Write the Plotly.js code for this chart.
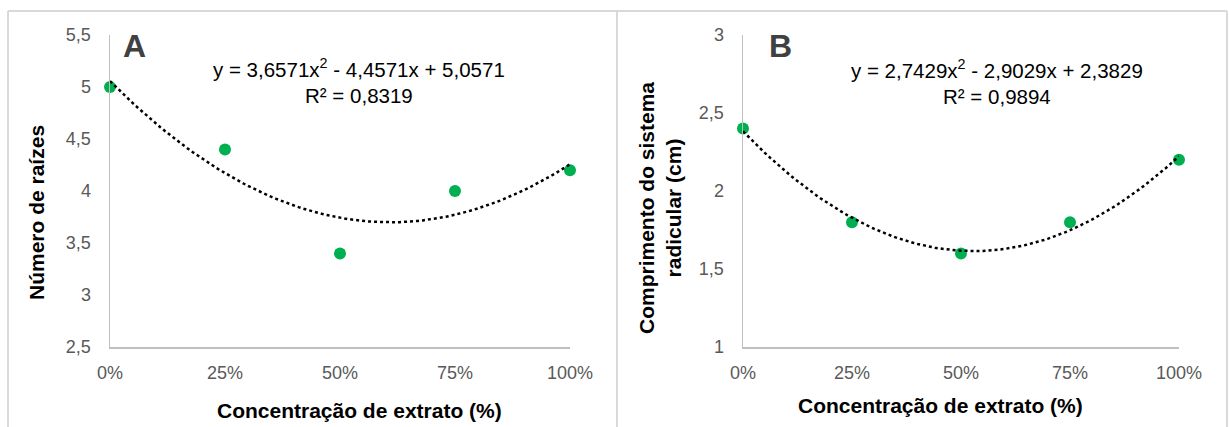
<!DOCTYPE html>
<html>
<head>
<meta charset="utf-8">
<script src="https://cdn.plot.ly/plotly-3.0.1.min.js"></script>
<style>
html,body{margin:0;padding:0;background:#fff;}
#chart{width:1229px;height:427px;}
</style>
</head>
<body>
<div id="chart"></div>
<script>
// ---- data ----
const concentrations = [0, 25, 50, 75, 100];
const xTickLabels = ['0%', '25%', '50%', '75%', '100%'];
const rootCount = [5, 4.4, 3.4, 4.0, 4.2];          // Panel A
const rootLength = [2.4, 1.8, 1.6, 1.8, 2.2];        // Panel B
const yTicksA = [2.5, 3, 3.5, 4, 4.5, 5, 5.5];
const yTickLabelsA = ['2,5', '3', '3,5', '4', '4,5', '5', '5,5'];
const yTicksB = [1, 1.5, 2, 2.5, 3];
const yTickLabelsB = ['1', '1,5', '2', '2,5', '3'];
const eqA = ['y = 3,6571x<sup>2</sup> - 4,4571x + 5,0571', 'R² = 0,8319'];
const eqB = ['y = 2,7429x<sup>2</sup> - 2,9029x + 2,3829', 'R² = 0,9894'];

// quadratic least-squares fit (like the spreadsheet trendline), x as fraction
function quadFit(xs, ys) {
  const S = [0,0,0,0,0], T = [0,0,0];
  xs.forEach((x, i) => {
    for (let k = 0; k < 5; k++) S[k] += Math.pow(x, k);
    for (let k = 0; k < 3; k++) T[k] += ys[i] * Math.pow(x, k);
  });
  const M = [[S[0],S[1],S[2],T[0]],[S[1],S[2],S[3],T[1]],[S[2],S[3],S[4],T[2]]];
  for (let c = 0; c < 3; c++) {
    for (let r = c + 1; r < 3; r++) {
      const f = M[r][c] / M[c][c];
      for (let k = c; k < 4; k++) M[r][k] -= f * M[c][k];
    }
  }
  const b = [0,0,0];
  for (let r = 2; r >= 0; r--) {
    let s = M[r][3];
    for (let k = r + 1; k < 3; k++) s -= M[r][k] * b[k];
    b[r] = s / M[r][r];
  }
  return b; // c0, c1, c2
}
function trend(ys) {
  const b = quadFit(concentrations.map(v => v / 100), ys);
  const xs = [], yv = [];
  for (let i = 0; i <= 100; i++) {
    const f = i / 100;
    xs.push(i);
    yv.push(b[0] + b[1] * f + b[2] * f * f);
  }
  return {xs, yv};
}
const tA = trend(rootCount), tB = trend(rootLength);

const W = 1229, H = 427;
const px = v => v / W, py = v => 1 - v / H;
const FONT = '"Liberation Sans", Arial, sans-serif';
const green = '#00B050';

const traces = [
  {x: concentrations, y: rootCount, xaxis: 'x', yaxis: 'y', mode: 'markers', type: 'scatter',
   marker: {color: green, size: 12}, cliponaxis: false, hoverinfo: 'skip'},
  {x: tA.xs, y: tA.yv, xaxis: 'x', yaxis: 'y', mode: 'lines', type: 'scatter',
   line: {color: '#000', width: 2.5, dash: 'dot'}, cliponaxis: false, hoverinfo: 'skip'},
  {x: concentrations, y: rootLength, xaxis: 'x2', yaxis: 'y2', mode: 'markers', type: 'scatter',
   marker: {color: green, size: 12}, cliponaxis: false, hoverinfo: 'skip'},
  {x: tB.xs, y: tB.yv, xaxis: 'x2', yaxis: 'y2', mode: 'lines', type: 'scatter',
   line: {color: '#000', width: 2.5, dash: 'dot'}, cliponaxis: false, hoverinfo: 'skip'}
];

const yDom = [py(347), py(35)];
const axisCommon = {
  showgrid: false, zeroline: false, showline: true, linecolor: '#bfbfbf', linewidth: 1.5,
  ticks: '', tickfont: {family: FONT, size: 18, color: '#595959'}, fixedrange: true
};
const layout = {
  width: W, height: H,
  margin: {l: 0, r: 0, t: 0, b: 0},
  paper_bgcolor: '#fff', plot_bgcolor: 'rgba(0,0,0,0)',
  showlegend: false,
  font: {family: FONT},
  xaxis: Object.assign({}, axisCommon, {domain: [px(110), px(570)], range: [0, 100], anchor: 'y',
    tickvals: concentrations, ticktext: xTickLabels, ticklabelstandoff: 9}),
  yaxis: Object.assign({}, axisCommon, {domain: yDom, range: [2.5, 5.5], anchor: 'x',
    tickvals: yTicksA, ticktext: yTickLabelsA, ticklabelstandoff: 14}),
  xaxis2: Object.assign({}, axisCommon, {domain: [px(743), px(1179)], range: [0, 100], anchor: 'y2',
    tickvals: concentrations, ticktext: xTickLabels, ticklabelstandoff: 9}),
  yaxis2: Object.assign({}, axisCommon, {domain: yDom, range: [1, 3], anchor: 'x2',
    tickvals: yTicksB, ticktext: yTickLabelsB, ticklabelstandoff: 14}),
  shapes: [
    {type: 'line', xref: 'paper', yref: 'paper', x0: px(8), x1: px(1227), y0: py(11), y1: py(11),
     line: {color: '#d9d9d9', width: 2}},
    {type: 'line', xref: 'paper', yref: 'paper', x0: px(8), x1: px(8), y0: py(11), y1: -0.05,
     line: {color: '#d9d9d9', width: 2}},
    {type: 'line', xref: 'paper', yref: 'paper', x0: px(617), x1: px(617), y0: py(11), y1: -0.05,
     line: {color: '#d9d9d9', width: 2}},
    {type: 'line', xref: 'paper', yref: 'paper', x0: px(1227), x1: px(1227), y0: py(11), y1: -0.05,
     line: {color: '#d9d9d9', width: 2}}
  ],
  annotations: [
    {text: '<b>A</b>', xref: 'paper', yref: 'paper', x: px(134), y: py(46), showarrow: false,
     xanchor: 'center', yanchor: 'middle', font: {family: FONT, size: 32, color: '#404040'}},
    {text: '<b>B</b>', xref: 'paper', yref: 'paper', x: px(780), y: py(46), showarrow: false,
     xanchor: 'center', yanchor: 'middle', font: {family: FONT, size: 32, color: '#404040'}},
    {text: eqA.join('<br>'), xref: 'paper', yref: 'paper', x: px(359), y: py(81), showarrow: false,
     xanchor: 'center', yanchor: 'middle', align: 'center', font: {family: FONT, size: 20.5, color: '#000'}},
    {text: eqB.join('<br>'), xref: 'paper', yref: 'paper', x: px(997), y: py(82), showarrow: false,
     xanchor: 'center', yanchor: 'middle', align: 'center', font: {family: FONT, size: 20.5, color: '#000'}},
    {text: '<b>Concentração de extrato (%)</b>', xref: 'paper', yref: 'paper', x: px(360), y: py(410),
     showarrow: false, xanchor: 'center', yanchor: 'middle', font: {family: FONT, size: 21, color: '#000'}},
    {text: '<b>Concentração de extrato (%)</b>', xref: 'paper', yref: 'paper', x: px(940), y: py(405),
     showarrow: false, xanchor: 'center', yanchor: 'middle', font: {family: FONT, size: 21, color: '#000'}},
    {text: '<b>Número de raízes</b>', xref: 'paper', yref: 'paper', x: px(36), y: py(213), textangle: -90,
     showarrow: false, xanchor: 'center', yanchor: 'middle', font: {family: FONT, size: 21, color: '#000'}},
    {text: '<b>Comprimento do sistema<br>radicular (cm)</b>', xref: 'paper', yref: 'paper', x: px(660), y: py(208),
     textangle: -90, showarrow: false, xanchor: 'center', yanchor: 'middle', align: 'center',
     font: {family: FONT, size: 21, color: '#000'}}
  ]
};

Plotly.newPlot('chart', traces, layout, {displayModeBar: false, staticPlot: true});
</script>
</body>
</html>
